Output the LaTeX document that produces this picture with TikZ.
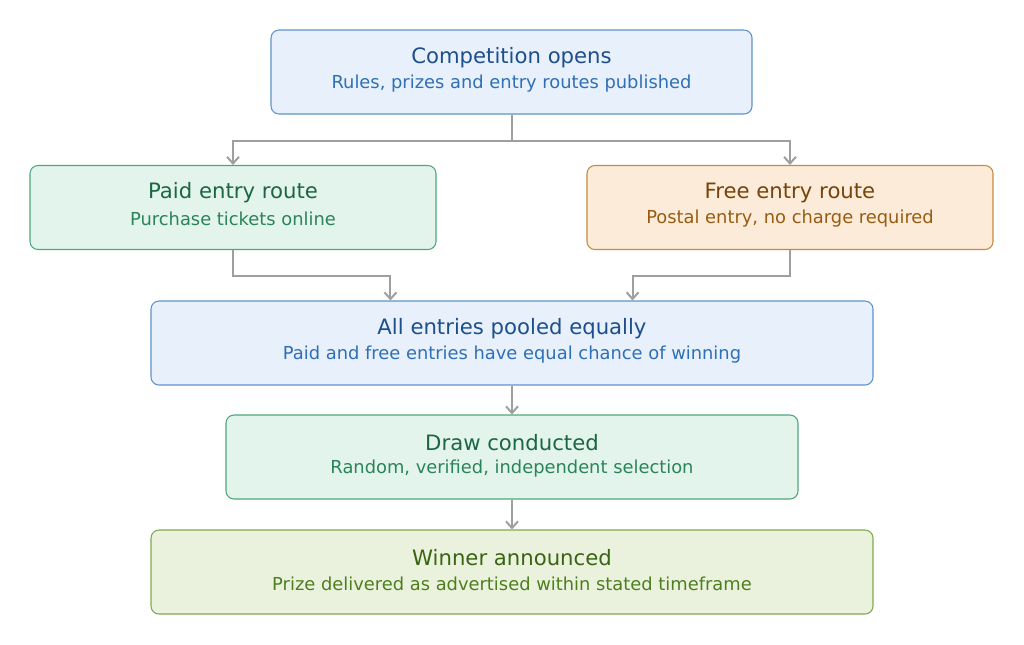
\documentclass[tikz,border=0pt]{standalone}
\usepackage{fontspec}
\setmainfont{DejaVu Sans}
\usetikzlibrary{arrows.meta}
\definecolor{bF}{HTML}{E7F0FB}\definecolor{bD}{HTML}{5E93CC}\definecolor{bT}{HTML}{1D4F8C}\definecolor{bS}{HTML}{2F6FB5}
\definecolor{gF}{HTML}{E3F4EC}\definecolor{gD}{HTML}{4FA67C}\definecolor{gT}{HTML}{1C6644}\definecolor{gS}{HTML}{2A8459}
\definecolor{oF}{HTML}{FCEBD8}\definecolor{oD}{HTML}{C58B40}\definecolor{oT}{HTML}{74450C}\definecolor{oS}{HTML}{975C12}
\definecolor{lF}{HTML}{EAF2DD}\definecolor{lD}{HTML}{7DAA4E}\definecolor{lT}{HTML}{3A6414}\definecolor{lS}{HTML}{4E7E1E}
\begin{document}
\begin{tikzpicture}[x=0.75pt,y=-0.75pt,
 box/.style={rectangle,rounded corners=6pt,line width=0.8pt,inner sep=0pt,minimum height=63pt},
 ttl/.style={font=\fontsize{15.9}{18}\selectfont},
 sub/.style={font=\fontsize{13.4}{15}\selectfont},
 arr/.style={draw=gray!75,line width=1.5pt,-{Straight Barb[length=5pt,width=9pt]}}]
\useasboundingbox (0,0) rectangle (1024,644);
\node[box,fill=bF,draw=bD,minimum width=360.75pt] (top) at (511.5,72) {};
\node[ttl,text=bT] (topt) at (511.5,58) {Competition opens};
\node[sub,text=bS] (tops) at (511.5,84) {Rules, prizes and entry routes published};
\node[box,fill=gF,draw=gD,minimum width=304.5pt] (paid) at (233,207.5) {};
\node[ttl,text=gT] (paidt) at (233,193) {Paid entry route};
\node[sub,text=gS] (paids) at (233,219) {Purchase tickets online};
\node[box,fill=oF,draw=oD,minimum width=304.5pt] (free) at (790,207.5) {};
\node[ttl,text=oT] (freet) at (790,193) {Free entry route};
\node[sub,text=oS] (frees) at (790,219) {Postal entry, no charge required};
\node[box,fill=bF,draw=bD,minimum width=541.5pt] (pool) at (512,343) {};
\node[ttl,text=bT] (poolt) at (512,329) {All entries pooled equally};
\node[sub,text=bS] (pools) at (512,355) {Paid and free entries have equal chance of winning};
\node[box,fill=gF,draw=gD,minimum width=429pt] (drw) at (512,457) {};
\node[ttl,text=gT] (drwt) at (512,443) {Draw conducted};
\node[sub,text=gS] (drws) at (512,469) {Random, verified, independent selection};
\node[box,fill=lF,draw=lD,minimum width=541.5pt] (win) at (512,572) {};
\node[ttl,text=lT] (wint) at (512,558) {Winner announced};
\node[sub,text=lS] (wins) at (512,584) {Prize delivered as advertised within stated timeframe};
\draw[arr] (top.south) -- ++(0,26) -| (paid.north);
\draw[arr] (top.south) -- ++(0,26) -| (free.north);
\draw[arr] (paid.south) -- ++(0,26) -| ([xshift=180pt]pool.north west);
\draw[arr] (free.south) -- ++(0,26) -| ([xshift=-180.75pt]pool.north east);
\draw[arr] (pool.south) -- (drw.north);
\draw[arr] (drw.south) -- (win.north);
\end{tikzpicture}
\end{document}
